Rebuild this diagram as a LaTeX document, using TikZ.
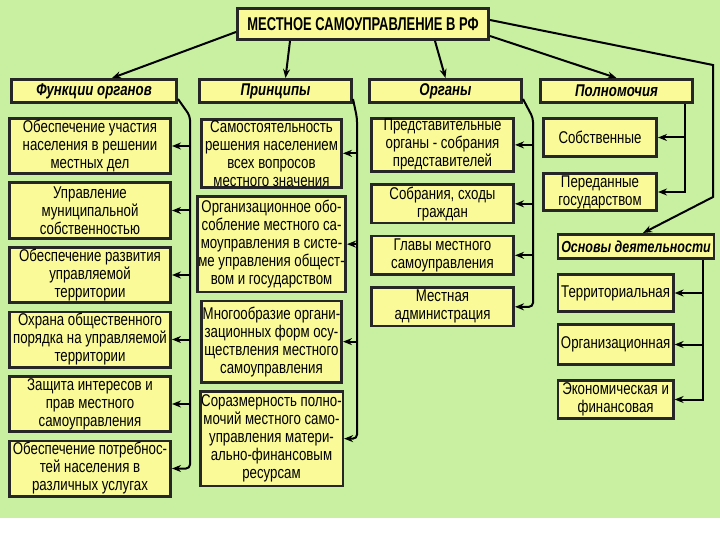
\documentclass[tikz,border=0pt]{standalone}
\usepackage{fontspec}
\setmainfont{Liberation Sans}[FakeStretch=0.78]
\newfontfamily\titlefont{Liberation Sans}[FakeStretch=0.7]
\usepackage{xcolor}
\usetikzlibrary{shapes,arrows,arrows.meta,positioning,calc}

\definecolor{bgGreen}{RGB}{200,240,160}
\definecolor{boxYellow}{RGB}{250,250,152}

\begin{document}
\begin{tikzpicture}[
    x=1pt, y=-1pt,
    every node/.style={font=\fontsize{17}{18}\selectfont},
    mainbox/.style={rectangle, draw=black!85, line width=2.6pt, fill=boxYellow, minimum width=251.4pt, minimum height=31.4pt, font=\titlefont\fontsize{18.5}{20}\selectfont\bfseries},
    headbox/.style={rectangle, draw=black!85, line width=2.6pt, fill=boxYellow, minimum height=23.4pt, font=\fontsize{17}{18}\selectfont\bfseries\itshape},
    itembox/.style={rectangle, draw=black!85, line width=2.6pt, fill=boxYellow, align=center, inner sep=1pt},
    arrow/.style={->,>={Stealth[length=9pt,width=7pt]},line width=2pt}
]
\useasboundingbox (0,0) rectangle (720,540);
\fill[bgGreen] (0,0) rectangle (720,518);

% Title
\node[mainbox] (top) at (363,24) {МЕСТНОЕ САМОУПРАВЛЕНИЕ В РФ};

% Headers
\node[headbox, minimum width=165.4pt] (hfun) at (94,91) {Функции органов};
\node[headbox, minimum width=152.4pt] (hpri) at (275.5,91) {Принципы};
\node[headbox, minimum width=152.4pt] (horg) at (445.5,91) {Органы};
\node[headbox, minimum width=152.4pt] (hpol) at (616.5,91) {Полномочия};
\node[headbox, minimum width=151.4pt, minimum height=24.4pt, font=\fontsize{16}{18}\selectfont\bfseries\itshape] (hosn) at (636,246.5) {Основы деятельности};

% Column 1: Functions
\node[itembox, minimum width=161.4pt, minimum height=55.4pt, below=13pt of hfun.south west, anchor=north west, xshift=-2pt] (fun1) {Обеспечение участия\\населения в решении\\местных дел};
\node[itembox, minimum width=161.4pt, minimum height=55.4pt, below=6.5pt of fun1] (fun2) {Управление\\муниципальной\\собственностью};
\node[itembox, minimum width=161.4pt, minimum height=55.4pt, below=6.5pt of fun2] (fun3) {Обеспечение развития\\управляемой\\территории};
\node[itembox, minimum width=161.4pt, minimum height=55.4pt, below=6.5pt of fun3] (fun4) {Охрана общественного\\порядка на управляемой\\территории};
\node[itembox, minimum width=161.4pt, minimum height=55.4pt, below=6.5pt of fun4] (fun5) {Защита интересов и\\прав местного\\самоуправления};
\node[itembox, minimum width=161.4pt, minimum height=55.4pt, below=6.5pt of fun5] (fun6) {Обеспечение потребнос-\\тей населения в\\различных услугах};

% Column 2: Principles
\node[itembox, minimum width=140.4pt, minimum height=67.4pt, below=14pt of hpri.south west, anchor=north west, xshift=2pt] (pri1) {Самостоятельность\\решения населением\\всех вопросов\\местного значения};
\node[itembox, minimum width=140.4pt, minimum height=95.4pt, below=6.5pt of pri1] (pri2) {Организационное обо-\\собление местного са-\\моуправления в систе-\\ме управления общест-\\вом и государством};
\node[itembox, minimum width=140.4pt, minimum height=81.4pt, below=6.5pt of pri2] (pri3) {Многообразие органи-\\зационных форм осу-\\ществления местного\\самоуправления};
\node[itembox, minimum width=140.4pt, minimum height=94.4pt, below=6.5pt of pri3] (pri4) {Соразмерность полно-\\мочий местного само-\\управления матери-\\ально-финансовым\\ресурсам};

% Column 3: Bodies
\node[itembox, minimum width=142.4pt, minimum height=52.4pt, below=13pt of horg.south west, anchor=north west, xshift=2pt] (org1) {Представительные\\органы - собрания\\представителей};
\node[itembox, minimum width=142.4pt, minimum height=38.4pt, below=10.5pt of org1] (org2) {Собрания, сходы\\граждан};
\node[itembox, minimum width=142.4pt, minimum height=38.4pt, below=10.5pt of org2] (org3) {Главы местного\\самоуправления};
\node[itembox, minimum width=142.4pt, minimum height=38.4pt, below=10.5pt of org3] (org4) {Местная\\администрация};

% Column 4: Powers and foundations
\node[itembox, minimum width=113.4pt, minimum height=38.4pt, below=13pt of hpol.south west, anchor=north west, xshift=3pt] (pol1) {Собственные};
\node[itembox, minimum width=113.4pt, minimum height=37.4pt, below=14pt of pol1] (pol2) {Переданные\\государством};
\node[itembox, minimum width=115.4pt, minimum height=37.4pt, below=13pt of hosn.south west, anchor=north west] (osn1) {Территориальная};
\node[itembox, minimum width=115.4pt, minimum height=40.4pt, below=10pt of osn1] (osn2) {Организационная};
\node[itembox, minimum width=115.4pt, minimum height=38.4pt, below=13pt of osn2] (osn3) {Экономическая и\\финансовая};

% Bus lines
\coordinate (bus1) at (190,0);
\coordinate (bus2) at (357,0);
\coordinate (bus3) at (533,0);
\coordinate (bus4) at (685,0);
\coordinate (bus5) at (703,0);
\coordinate (corner) at (713,65);
\coordinate (bend) at (713,197);

% Arrows from title
\draw[arrow] ([yshift=-8pt]top.west) -- ([xshift=18pt]hfun.north);
\draw[arrow] ([xshift=-73pt]top.south) -- ([xshift=10pt]hpri.north);
\draw[arrow] ([xshift=72pt]top.south) -- (horg.north);
\draw[arrow] ([yshift=-12pt]top.east) -- (hpol.north);
\draw[arrow] ([yshift=4pt]top.east) -- (corner) -- (bend) -- ([xshift=7pt]hosn.north);

% Arrows into the columns
\draw[arrow, rounded corners=4pt] ([yshift=5pt]hfun.south east) -- ([yshift=-12pt]bus1 |- hfun.south) -- (bus1 |- fun6) -- (fun6);
\foreach \n in {fun1,fun2,fun3,fun4,fun5}
    \draw[arrow] (bus1 |- \n) -- (\n);
\draw[arrow, rounded corners=4pt] ([yshift=5pt]hpri.south east) -- ([yshift=-14pt]bus2 |- hpri.south) -- (bus2 |- pri4) -- (pri4);
\foreach \n in {pri1,pri2,pri3}
    \draw[arrow] (bus2 |- \n) -- (\n);
\draw[arrow, rounded corners=4pt] ([yshift=5pt]horg.south east) -- ([yshift=-14pt]bus3 |- horg.south) -- (bus3 |- org4) -- (org4);
\foreach \n in {org1,org2,org3}
    \draw[arrow] (bus3 |- \n) -- (\n);
\draw[arrow] (bus4 |- hpol.south) -- (bus4 |- pol2) -- (pol2);
\draw[arrow] (bus4 |- pol1) -- (pol1);
\draw[arrow] (bus5 |- hosn.south) -- (bus5 |- osn3) -- (osn3);
\foreach \n in {osn1,osn2}
    \draw[arrow] (bus5 |- \n) -- (\n);

\end{tikzpicture}
\end{document}
